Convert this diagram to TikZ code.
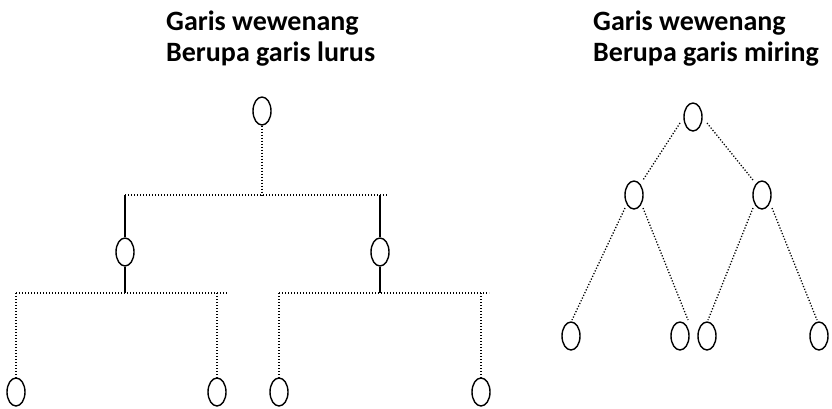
\documentclass[tikz,border=0pt]{standalone}
\usepackage{fontspec}
\setmainfont{Carlito}
\usetikzlibrary{shapes.geometric}
\begin{document}
\begin{tikzpicture}[x=1pt,y=-1pt,
  org/.style={ellipse,draw,line width=1.4pt,minimum width=18pt,minimum height=28pt,inner sep=0pt},
  dotline/.style={line width=1.3pt,dash pattern=on 1.2pt off 1.8pt},
  sline/.style={line width=1.5pt},
  title/.style={font=\bfseries\fontsize{28}{34}\selectfont,anchor=base west,inner sep=0pt}]
\useasboundingbox (0,0) rectangle (832,408);
% titles
\node[title] (tl1) at (166,30) {Garis wewenang};
\node[title] (tl2) at (166,61) {Berupa garis lurus};
\node[title] (tr1) at (593,30) {Garis wewenang};
\node[title] (tr2) at (593,61) {Berupa garis miring};
% left tree
\node[org] (a) at (262,111) {};
\node[org] (b1) at (125,252) {};
\node[org] (b2) at (380,252) {};
\node[org] (c1) at (16,392) {};
\node[org] (c2) at (217,392) {};
\node[org] (c3) at (279,392) {};
\node[org] (c4) at (481,392) {};
\coordinate (j1) at (262,195);
\coordinate (h1l) at (125,195);
\coordinate (h1r) at (388,195);
\coordinate (h2l) at (16,293);
\coordinate (h2r) at (227,293);
\coordinate (h3l) at (279,293);
\coordinate (h3r) at (489,293);
\draw[dotline] (a) -- (j1);
\draw[dotline] (h1l) -- (h1r);
\draw[sline] (h1l) -- (b1);
\draw[sline] (b2 |- h1l) -- (b2);
\draw[sline] (b1) -- (b1 |- h2l);
\draw[sline] (b2) -- (b2 |- h3l);
\draw[dotline] (h2l) -- (h2r);
\draw[dotline] (h2l) -- (c1);
\draw[dotline] (c2 |- h2l) -- (c2);
\draw[dotline] (h3l) -- (h3r);
\draw[dotline] (h3l) -- (c3);
\draw[dotline] (c4 |- h3l) -- (c4);
% right tree
\node[org] (r) at (693,117) {};
\node[org] (s1) at (634,195) {};
\node[org] (s2) at (762,195) {};
\node[org] (t1) at (571,336) {};
\node[org] (t2) at (680,336) {};
\node[org] (t3) at (707,336) {};
\node[org] (t4) at (819,336) {};
\draw[dotline] ([shift={(-13,6)}]r.center) -- ([shift={(9,-15)}]s1.center);
\draw[dotline] ([shift={(14,6)}]r.center) -- ([shift={(-9,-15)}]s2.center);
\draw[dotline] ([shift={(-9,13)}]s1.center) -- ([shift={(1,-16)}]t1.center);
\draw[dotline] ([shift={(9,13)}]s1.center) -- ([shift={(8,-16)}]t2.center);
\draw[dotline] ([shift={(-9,13)}]s2.center) -- ([shift={(1,-16)}]t3.center);
\draw[dotline] ([shift={(10,13)}]s2.center) -- ([shift={(-2,-16)}]t4.center);
\end{tikzpicture}
\end{document}
